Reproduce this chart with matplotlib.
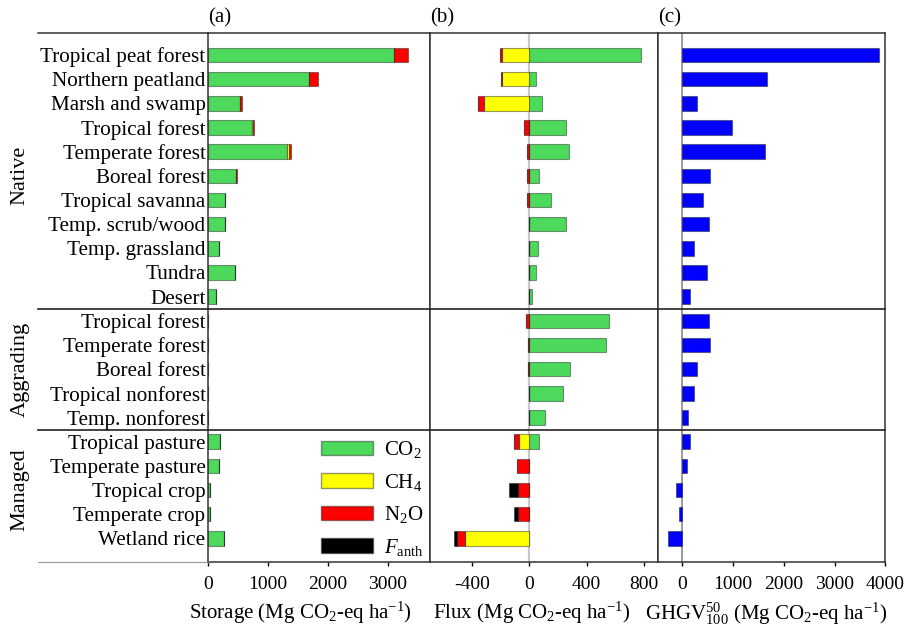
import matplotlib.pyplot as plt
import matplotlib.transforms as mtransforms
from matplotlib.lines import Line2D
from matplotlib.patches import Patch
import numpy as np

plt.rcParams["font.family"] = ["Liberation Serif", "DejaVu Serif"]
plt.rcParams["mathtext.fontset"] = "custom"
plt.rcParams["mathtext.rm"] = "Liberation Serif"
plt.rcParams["mathtext.it"] = "Liberation Serif:italic"
plt.rcParams["axes.unicode_minus"] = False

ecosystems = [
    "Tropical peat forest", "Northern peatland", "Marsh and swamp",
    "Tropical forest", "Temperate forest", "Boreal forest",
    "Tropical savanna", "Temp. scrub/wood", "Temp. grassland",
    "Tundra", "Desert",
    "Tropical forest", "Temperate forest", "Boreal forest",
    "Tropical nonforest", "Temp. nonforest",
    "Tropical pasture", "Temperate pasture", "Tropical crop",
    "Temperate crop", "Wetland rice",
]
groups = ["Native", "Aggrading", "Managed"]
group_sizes = [11, 5, 5]

# panel (a) storage
storage_co2 = [3100, 1680, 530, 730, 1320, 470, 280, 285, 180, 440, 125,
               0, 0, 0, 0, 0,
               195, 180, 25, 25, 260]
storage_ch4 = [0, 0, 0, 15, 30, 0, 0, 0, 0, 0, 0,
               0, 0, 0, 0, 0,
               0, 0, 0, 0, 0]
storage_n2o = [230, 145, 30, 15, 35, 15, 0, 0, 0, 0, 0,
               0, 0, 0, 0, 0,
               0, 0, 0, 0, 0]

# panel (b) flux
flux_co2 = [780, 45, 90, 256, 279, 68, 149, 256, 61, 49, 19,
            554, 535, 284, 233, 107,
            65, 0, 0, 0, 0]
flux_ch4 = [-190, -193, -320, 0, 0, 0, 0, 0, 0, 0, 0,
            0, 0, 0, 0, 0,
            -70, 0, 0, 0, -453]
flux_n2o = [-15, -5, -37, -40, -15, -16, -19, -5, -5, -5, 0,
            -26, -12, -12, -5, -5,
            -37, -84, -77, -77, -54]
flux_fanth = [0, 0, 0, 0, 0, 0, 0, 0, 0, 0, 0,
              0, 0, 0, 0, 0,
              0, 0, -65, -30, -23]

# panel (c) GHGV
ghgv = [3873, 1666, 288, 980, 1633, 543, 418, 529, 235, 480, 151,
        537, 543, 288, 235, 112,
        145, 86, -123, -71, -274]

green = "#4cd95c"
yellow = "#ffff00"
red = "#ff0000"
black = "#000000"
blue = "#0000ff"
edge = (0.1, 0.1, 0.1, 0.45)

y = np.arange(len(ecosystems))
bh = 0.6

fig = plt.figure(figsize=(9.09, 6.34), dpi=100)
W, H = 909, 634
top_px, bot_px = 33, 562
ax1 = fig.add_axes([208.3 / W, 1 - bot_px / H, 221.7 / W, (bot_px - top_px) / H])
ax2 = fig.add_axes([430 / W, 1 - bot_px / H, 228.3 / W, (bot_px - top_px) / H])
ax3 = fig.add_axes([658.3 / W, 1 - bot_px / H, 227 / W, (bot_px - top_px) / H])

kw = dict(height=bh, edgecolor=edge, linewidth=0.8)

# (a) stacked storage
sc = np.array(storage_co2)
sm = np.array(storage_ch4)
sn = np.array(storage_n2o)
ax1.barh(y, sc, color=green, **kw)
ax1.barh(y, sm, left=sc, color=yellow, **kw)
ax1.barh(y, sn, left=sc + sm, color=red, **kw)

# (b) flux: positives right, negatives stacked left
ax2.axvline(0, color="#c8c8c8", lw=1.6, zorder=0)
ax2.barh(y, flux_co2, color=green, **kw)
neg = np.zeros(len(y))
for vals, col in [(flux_ch4, yellow), (flux_n2o, red), (flux_fanth, black)]:
    vals = np.array(vals)
    ax2.barh(y, vals, left=neg, color=col, **kw)
    neg = neg + vals

# (c) GHGV
ax3.axvline(0, color="#8a8a8a", lw=1.2, zorder=0)
ax3.barh(y, ghgv, color=blue, **kw)

ax1.set_xlim(0, 3700)
ax2.set_xlim(-695, 900)
ax3.set_xlim(-470, 4000)
ax1.set_xticks([0, 1000, 2000, 3000])
ax2.set_xticks([-400, 0, 400, 800])
ax3.set_xticks([0, 1000, 2000, 3000, 4000])

ylim = (20.98, -0.91)
for ax in (ax1, ax2, ax3):
    ax.set_ylim(ylim)
    ax.tick_params(axis="x", direction="out", length=3, width=1, labelsize=14, pad=7)
    for s in ax.spines.values():
        s.set_color("#333333")
        s.set_linewidth(1.1)

ax1.set_yticks(y, ecosystems)
ax1.tick_params(axis="y", length=0, labelsize=15.2, pad=2)
ax2.set_yticks([])
ax3.set_yticks([])

ax1.set_xlabel(r"Storage (Mg CO$_2$-eq ha$^{-1}$)", fontsize=15)
ax2.set_xlabel(r"Flux (Mg CO$_2$-eq ha$^{-1}$)", fontsize=15)
ax3.set_xlabel(r"GHGV$_{100}^{50}$ (Mg CO$_2$-eq ha$^{-1}$)", fontsize=15)
ax1.xaxis.set_label_coords(0.414, -0.072)
ax2.xaxis.set_label_coords(0.447, -0.072)
ax3.xaxis.set_label_coords(0.474, -0.072)

for ax, lab in zip((ax1, ax2, ax3), ["(a)", "(b)", "(c)"]):
    ax.text(0.0, 1.01, lab, transform=ax.transAxes, ha="left", va="bottom", fontsize=15)

# group separators and labels
trans = mtransforms.blended_transform_factory(fig.transFigure, ax1.transData)
x0, x1 = 38 / W, 885.3 / W
for yy in [10.5, 15.5]:
    fig.add_artist(Line2D([x0, x1], [yy, yy], transform=trans, color="#222222", lw=1.2))
fig.add_artist(Line2D([x0, 208.3 / W], [ylim[1], ylim[1]], transform=trans, color="#333333", lw=1.1))
fig.add_artist(Line2D([x0, 208.3 / W], [ylim[0], ylim[0]], transform=trans, color="#999999", lw=0.8))

start = 0
for g, n in zip(groups, group_sizes):
    mid = start + (n - 1) / 2
    fig.text(20 / W, mid, g, transform=trans, rotation=90, ha="center", va="center", fontsize=16)
    start += n

handles = [
    Patch(facecolor=green, edgecolor=edge, label=r"CO$_2$"),
    Patch(facecolor=yellow, edgecolor=edge, label=r"CH$_4$"),
    Patch(facecolor=red, edgecolor=edge, label=r"N$_2$O"),
    Patch(facecolor=black, edgecolor=edge, label=r"$F_{\rm anth}$"),
]
ax1.legend(handles=handles, loc="upper left", bbox_to_anchor=(0.51, 0.232),
           frameon=False, fontsize=15, handlelength=2.5, handleheight=0.7,
           labelspacing=0.55, handletextpad=0.5, borderpad=0, borderaxespad=0)

plt.savefig("out.png", dpi=100)
